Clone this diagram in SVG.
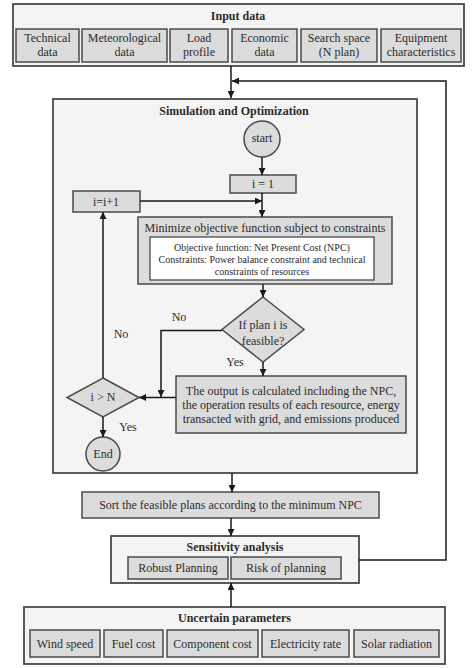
<svg xmlns="http://www.w3.org/2000/svg" width="474" height="668" viewBox="0 0 474 668">
<style>
text{font-family:"Liberation Serif","DejaVu Serif",serif;fill:#2b2b2b;text-anchor:middle;dominant-baseline:central;font-size:12px}
.b{font-weight:bold}
.s{font-size:10px}
.outer{fill:#f4f4f4;stroke:#4a4a4a;stroke-width:1.8}
.sub{fill:#dcdcdc;stroke:#4a4a4a;stroke-width:1.5}
.inner{fill:#ffffff;stroke:#4a4a4a;stroke-width:1.3}
.ln{fill:none;stroke:#1a1a1a;stroke-width:1.5}
</style>
<defs>
<marker id="ah" viewBox="0 0 10 10" refX="10" refY="5" markerWidth="7" markerHeight="7" markerUnits="userSpaceOnUse" orient="auto">
<path d="M0,0 L10,5 L0,10 z" fill="#1a1a1a"/>
</marker>
</defs>
<rect width="474" height="668" fill="#ffffff"/>

<g id="input-data">
<rect class="outer" x="13" y="4" width="451" height="62"/>
<text class="b" x="238" y="16">Input data</text>
<rect class="sub" x="16" y="29" width="63" height="33"/>
<text x="47.5" y="38">Technical</text><text x="47.5" y="52">data</text>
<rect class="sub" x="82" y="29" width="85" height="33"/>
<text x="124.5" y="38">Meteorological</text><text x="124.5" y="52">data</text>
<rect class="sub" x="170" y="29" width="58" height="33"/>
<text x="199" y="38">Load</text><text x="199" y="52">profile</text>
<rect class="sub" x="232" y="29" width="65" height="33"/>
<text x="264.5" y="38">Economic</text><text x="264.5" y="52">data</text>
<rect class="sub" x="301" y="29" width="76" height="33"/>
<text x="339" y="38">Search space</text><text x="339" y="52">(N plan)</text>
<rect class="sub" x="381" y="29" width="80" height="33"/>
<text x="421" y="38">Equipment</text><text x="421" y="52">characteristics</text>
</g>

<g id="simulation">
<rect class="outer" x="53" y="99" width="364" height="374"/>
<text class="b" x="234" y="111">Simulation and Optimization</text>
</g>

<g id="start">
<circle cx="262" cy="139" r="18" fill="#dcdcdc" stroke="#4a4a4a" stroke-width="1.5"/>
<text x="262" y="138">start</text>
</g>

<g id="i1">
<rect class="sub" x="230" y="175" width="66" height="18"/>
<text x="263" y="184">i = 1</text>
</g>

<g id="iinc">
<rect class="sub" x="73" y="191" width="67" height="21"/>
<text x="106" y="201.5">i=i+1</text>
</g>

<g id="minimize">
<rect class="sub" x="138" y="217" width="254" height="67"/>
<text x="265" y="228">Minimize objective function subject to constraints</text>
<rect class="inner" x="150" y="237" width="224" height="43"/>
<text class="s" x="262" y="247">Objective function: Net Present Cost (NPC)</text>
<text class="s" x="262" y="259">Constraints: Power balance constraint and technical</text>
<text class="s" x="262" y="271">constraints of resources</text>
</g>

<g id="feasible">
<polygon points="263,297 304,329.5 263,362 222,329.5" fill="#dcdcdc" stroke="#4a4a4a" stroke-width="1.5"/>
<text x="263" y="325">If plan i is</text>
<text x="263" y="341">feasible?</text>
</g>

<g id="output">
<rect class="sub" x="176" y="376" width="230" height="57"/>
<text x="291" y="391">The output is calculated including the NPC,</text>
<text x="291" y="405">the operation results of each resource, energy</text>
<text x="291" y="419">transacted with grid, and emissions produced</text>
</g>

<g id="igtN">
<polygon points="103,378 139,397.5 103,417 67,397.5" fill="#dcdcdc" stroke="#4a4a4a" stroke-width="1.5"/>
<text x="103" y="397">i &gt; N</text>
</g>

<g id="end">
<circle cx="103" cy="454" r="17" fill="#dcdcdc" stroke="#4a4a4a" stroke-width="1.5"/>
<text x="103" y="454">End</text>
</g>

<g id="sort">
<rect class="sub" x="82" y="492" width="297" height="26"/>
<text x="230.5" y="505">Sort the feasible plans according to the minimum NPC</text>
</g>

<g id="sensitivity">
<rect class="outer" x="111" y="536" width="248" height="47"/>
<text class="b" x="235" y="547">Sensitivity analysis</text>
<rect class="sub" x="128" y="557" width="100" height="22"/>
<text x="178" y="568">Robust Planning</text>
<rect class="sub" x="231" y="557" width="110" height="22"/>
<text x="286" y="568">Risk of planning</text>
</g>

<g id="uncertain">
<rect class="outer" x="24" y="607" width="421" height="57"/>
<text class="b" x="234.5" y="618">Uncertain parameters</text>
<rect class="sub" x="30" y="630" width="70" height="27"/>
<text x="65" y="643.5">Wind speed</text>
<rect class="sub" x="104" y="630" width="59" height="27"/>
<text x="133.5" y="643.5">Fuel cost</text>
<rect class="sub" x="167" y="630" width="91" height="27"/>
<text x="212.5" y="643.5">Component cost</text>
<rect class="sub" x="262" y="630" width="87" height="27"/>
<text x="305.5" y="643.5">Electricity rate</text>
<rect class="sub" x="354" y="630" width="85" height="27"/>
<text x="396.5" y="643.5">Solar radiation</text>
</g>

<g id="connectors">
<path class="ln" d="M231,66 V98" marker-end="url(#ah)"/>
<path class="ln" d="M359,560 H446 V81 H232" marker-end="url(#ah)"/>
<path class="ln" d="M262,157 V175" marker-end="url(#ah)"/>
<path class="ln" d="M140,201 H262" marker-end="url(#ah)"/>
<path class="ln" d="M262,193 V217" marker-end="url(#ah)"/>
<path class="ln" d="M263,284 V297" marker-end="url(#ah)"/>
<path class="ln" d="M263,362 V376" marker-end="url(#ah)"/>
<path class="ln" d="M222,330.5 H161 V397" marker-end="url(#ah)"/>
<path class="ln" d="M176,397.5 H139" marker-end="url(#ah)"/>
<path class="ln" d="M103,378 V212" marker-end="url(#ah)"/>
<path class="ln" d="M103,417 V437" marker-end="url(#ah)"/>
<path class="ln" d="M232,473 V492" marker-end="url(#ah)"/>
<path class="ln" d="M231,518 V536" marker-end="url(#ah)"/>
<path class="ln" d="M231,607 V583" marker-end="url(#ah)"/>
</g>

<g id="labels">
<text x="179" y="317">No</text>
<text x="121" y="334">No</text>
<text x="235" y="362">Yes</text>
<text x="128" y="427">Yes</text>
</g>
</svg>
